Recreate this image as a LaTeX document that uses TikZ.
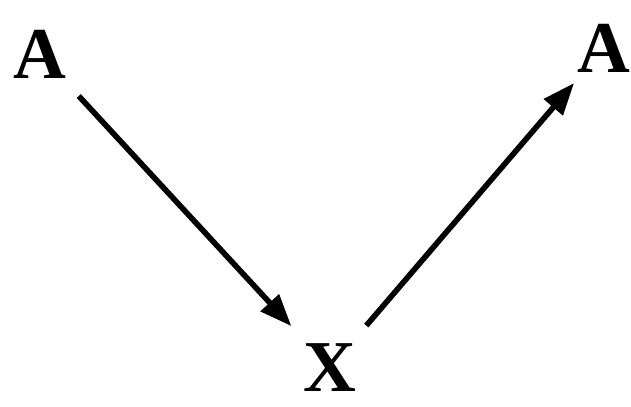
\documentclass[tikz,border=0pt]{standalone}
\usepackage{fontspec}
\setmainfont{Liberation Serif}
\usetikzlibrary{arrows.meta,positioning}

\begin{document}
\begin{tikzpicture}[>={Triangle[length=8mm,width=6mm]},
  letter/.style={font=\fontsize{52}{52}\selectfont\bfseries,inner sep=0pt},
  link/.style={->,line width=4pt}]
\useasboundingbox (0,0) rectangle (15.775,10.15);
\node[letter] (left) at (1.0,8.8) {A};
\node[letter] (right) at (15.1,8.95) {A};
\node[letter] (mid) at (8.25,0.95) {X};
\draw[link,shorten <=6mm,shorten >=6mm] (left) -- (mid);
\draw[link,shorten <=6mm,shorten >=3.5mm] (mid) -- (right);
\end{tikzpicture}
\end{document}
